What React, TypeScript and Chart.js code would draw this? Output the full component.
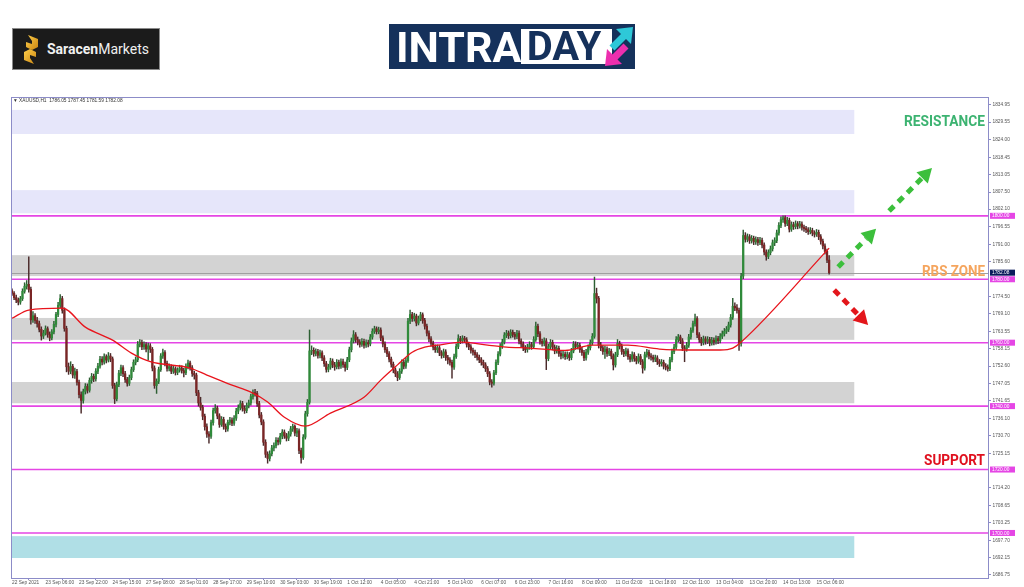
import React, { useEffect, useRef } from 'react';
import { Chart, registerables } from 'chart.js';

Chart.register(...registerables);

// ---------- DATA (XAUUSD H1) ----------
const firstOpen = 1776.4;

const closes = [
  1775.6, 1774.2, 1773.5, 1772.8, 1773.9, 1776.2, 1777.8, 1778.4, 1776.8, 1767.2,
  1768.5, 1767.0, 1766.0, 1764.2, 1762.1, 1763.0, 1764.4, 1762.6, 1761.5, 1763.4,
  1765.8, 1768.9, 1771.8, 1773.9, 1770.2, 1764.5, 1752.4, 1751.0, 1752.5, 1749.8,
  1750.9, 1747.5, 1743.6, 1741.8, 1744.6, 1746.2, 1745.0, 1748.1, 1749.4, 1748.6,
  1751.0, 1752.6, 1754.8, 1753.9, 1755.6, 1754.5, 1755.8, 1754.9, 1746.5, 1742.3,
  1746.8, 1750.4, 1752.1, 1750.2, 1748.4, 1747.2, 1749.0, 1751.5, 1753.8, 1754.6,
  1759.5, 1760.1, 1758.7, 1759.4, 1758.0, 1759.0, 1757.9, 1752.0, 1746.5, 1747.8,
  1751.5, 1755.8, 1756.9, 1753.5, 1751.9, 1752.4, 1751.0, 1751.8, 1750.6, 1751.4,
  1752.0, 1751.2, 1750.5, 1752.4, 1753.6, 1752.1, 1750.3, 1749.8, 1744.2, 1741.0,
  1739.6, 1736.8, 1733.5, 1731.2, 1730.5, 1734.8, 1738.6, 1739.4, 1736.9, 1734.2,
  1735.8, 1733.6, 1732.8, 1734.9, 1735.6, 1734.6, 1736.2, 1738.4, 1739.5, 1740.8,
  1739.3, 1738.6, 1740.2, 1741.0, 1743.0, 1744.3, 1744.0, 1740.8, 1737.2, 1735.0,
  1728.6, 1724.8, 1723.5, 1725.0, 1726.8, 1727.5, 1729.2, 1728.7, 1730.5, 1731.8,
  1730.6, 1729.9, 1731.2, 1732.8, 1733.6, 1731.5, 1732.2, 1726.0, 1723.8, 1730.2,
  1737.6, 1741.2, 1757.4, 1757.6, 1756.6, 1757.2, 1756.0, 1756.8, 1755.2, 1753.4,
  1751.6, 1752.3, 1754.2, 1753.0, 1752.4, 1753.8, 1752.6, 1754.0, 1753.1, 1752.2,
  1754.6, 1757.8, 1760.6, 1762.5, 1761.0, 1760.2, 1759.5, 1760.4, 1759.2, 1760.0,
  1759.6, 1761.8, 1763.6, 1764.4, 1763.5, 1764.0, 1761.5, 1759.6, 1757.8, 1756.5,
  1754.8, 1753.2, 1751.4, 1750.2, 1749.0, 1751.0, 1753.8, 1752.6, 1754.3, 1766.8,
  1768.9, 1767.6, 1768.4, 1766.2, 1767.5, 1768.8, 1767.0, 1765.2, 1763.0, 1761.2,
  1759.8, 1758.6, 1757.8, 1758.4, 1756.8, 1756.0, 1757.1, 1755.3, 1754.6, 1753.8,
  1752.3, 1755.6, 1758.8, 1761.3, 1760.6, 1761.4, 1760.9, 1759.5, 1758.7, 1757.6,
  1757.0, 1756.2, 1755.4, 1754.6, 1753.8, 1753.0, 1751.8, 1750.2, 1747.6, 1747.2,
  1750.5, 1753.8, 1756.4, 1758.9, 1760.2, 1762.4, 1763.0, 1762.2, 1763.3, 1762.6,
  1762.0, 1763.0, 1760.5, 1759.6, 1758.4, 1757.8, 1758.6, 1759.4, 1758.8, 1761.0,
  1765.2, 1762.8, 1760.4, 1759.8, 1760.6, 1755.0, 1758.8, 1760.1, 1758.6, 1757.4,
  1758.2, 1756.6, 1755.8, 1756.4, 1755.6, 1756.2, 1755.3, 1757.4, 1759.6, 1758.8,
  1759.2, 1757.8, 1756.9, 1755.2, 1757.0, 1758.4, 1760.0, 1762.0, 1775.5, 1774.0,
  1759.2, 1758.4, 1757.2, 1758.0, 1756.6, 1757.3, 1755.8, 1753.0, 1756.2, 1759.8,
  1758.9, 1757.2, 1756.5, 1757.4, 1755.6, 1754.8, 1756.2, 1755.0, 1754.2, 1755.6,
  1754.0, 1752.0, 1756.2, 1757.0, 1755.8, 1755.4, 1754.8, 1755.2, 1754.0, 1753.4,
  1753.8, 1752.6, 1752.3, 1751.8, 1754.6, 1757.2, 1758.6, 1761.0, 1761.8, 1760.6,
  1758.4, 1758.0, 1759.2, 1761.8, 1763.9, 1766.0, 1767.6, 1762.5, 1761.0, 1760.0,
  1761.2, 1760.4, 1761.0, 1759.9, 1760.8, 1760.2, 1761.3, 1760.6, 1762.0, 1762.8,
  1763.6, 1764.2, 1765.6, 1768.0, 1771.5, 1771.0, 1770.2, 1759.8, 1781.0, 1793.8,
  1792.6, 1793.4, 1792.2, 1792.9, 1791.8, 1792.5, 1791.6, 1792.3, 1790.8, 1788.6,
  1787.2, 1788.4, 1789.6, 1791.5, 1792.2, 1794.6, 1797.0, 1798.8, 1799.4, 1797.6,
  1798.6, 1795.8, 1797.2, 1796.6, 1797.5, 1796.8, 1797.4, 1796.4, 1796.0, 1795.6,
  1795.0, 1795.4, 1794.6, 1794.2, 1794.8, 1793.4, 1792.0, 1790.5, 1788.8, 1786.05,
  1782.08,
];

const highs = [
  1777.0, 1776.1, 1775.0, 1774.1, 1774.6, 1777.0, 1778.9, 1779.6, 1787.1, 1777.5,
  1769.8, 1769.2, 1768.0, 1766.8, 1765.0, 1763.9, 1765.3, 1765.0, 1763.4, 1764.1,
  1766.7, 1769.6, 1772.7, 1775.2, 1774.6, 1771.0, 1765.2, 1753.6, 1754.0, 1753.2,
  1752.0, 1751.6, 1748.2, 1744.5, 1745.4, 1747.1, 1747.0, 1748.9, 1750.3, 1750.1,
  1751.8, 1753.5, 1755.7, 1755.6, 1756.5, 1756.2, 1756.9, 1756.6, 1755.5, 1747.2,
  1747.6, 1751.3, 1752.9, 1752.8, 1751.0, 1749.1, 1749.8, 1752.3, 1754.6, 1755.5,
  1760.4, 1761.0, 1760.8, 1760.3, 1760.0, 1759.9, 1759.7, 1758.5, 1752.7, 1748.6,
  1752.3, 1756.6, 1758.0, 1757.5, 1754.2, 1753.3, 1753.0, 1752.6, 1752.4, 1752.1,
  1752.9, 1752.7, 1751.9, 1753.3, 1754.5, 1754.2, 1752.8, 1751.0, 1750.4, 1745.0,
  1742.8, 1740.3, 1737.5, 1734.4, 1732.0, 1735.6, 1739.4, 1740.5, 1740.0, 1737.6,
  1736.7, 1736.5, 1734.4, 1735.6, 1736.5, 1736.3, 1737.0, 1739.3, 1740.4, 1741.7,
  1741.5, 1740.1, 1741.0, 1741.9, 1743.8, 1745.1, 1745.3, 1744.7, 1741.5, 1738.0,
  1735.7, 1729.4, 1725.6, 1725.9, 1727.6, 1728.4, 1730.1, 1730.0, 1731.4, 1732.6,
  1732.5, 1731.4, 1732.0, 1733.6, 1734.3, 1734.1, 1733.0, 1732.8, 1726.8, 1731.0,
  1738.4, 1742.1, 1764.0, 1759.0, 1758.4, 1758.1, 1757.9, 1757.7, 1757.4, 1755.9,
  1754.1, 1753.2, 1755.1, 1754.9, 1753.8, 1754.7, 1754.5, 1754.9, 1754.8, 1753.9,
  1755.4, 1758.6, 1761.5, 1763.8, 1763.2, 1761.8, 1761.0, 1761.3, 1761.1, 1760.9,
  1760.8, 1762.6, 1764.4, 1765.2, 1765.0, 1764.9, 1764.7, 1762.2, 1760.3, 1758.5,
  1757.2, 1755.5, 1753.9, 1752.1, 1750.9, 1751.8, 1754.6, 1754.5, 1755.2, 1767.7,
  1770.3, 1769.6, 1769.3, 1769.0, 1768.4, 1769.6, 1769.4, 1767.7, 1765.9, 1763.7,
  1761.9, 1760.5, 1759.3, 1759.3, 1759.1, 1757.5, 1758.0, 1757.8, 1756.0, 1755.3,
  1754.5, 1756.4, 1759.6, 1762.5, 1762.0, 1762.2, 1762.0, 1761.6, 1760.2, 1759.4,
  1758.3, 1757.7, 1756.9, 1756.1, 1755.3, 1754.5, 1753.7, 1752.5, 1750.9, 1748.4,
  1751.3, 1754.6, 1757.2, 1759.7, 1761.1, 1763.2, 1763.9, 1763.7, 1764.1, 1764.0,
  1763.3, 1763.9, 1763.7, 1761.2, 1760.3, 1759.1, 1759.5, 1760.3, 1760.1, 1761.9,
  1766.5, 1765.9, 1763.5, 1761.1, 1761.5, 1761.3, 1759.6, 1761.0, 1760.8, 1759.3,
  1759.1, 1758.9, 1757.3, 1757.3, 1757.1, 1757.1, 1756.9, 1758.2, 1760.4, 1760.3,
  1760.1, 1759.9, 1758.5, 1757.6, 1757.9, 1759.3, 1760.9, 1762.9, 1780.7, 1777.2,
  1774.6, 1760.1, 1759.1, 1758.9, 1758.7, 1758.2, 1758.0, 1756.5, 1757.0, 1761.0,
  1760.5, 1759.6, 1757.9, 1758.3, 1758.1, 1756.3, 1757.1, 1756.9, 1755.7, 1756.5,
  1756.3, 1754.7, 1757.0, 1757.9, 1757.7, 1756.6, 1756.1, 1756.1, 1755.9, 1754.7,
  1754.7, 1754.5, 1753.4, 1753.0, 1755.4, 1758.0, 1759.5, 1761.9, 1762.6, 1762.4,
  1761.3, 1759.1, 1760.1, 1762.6, 1764.7, 1766.8, 1769.0, 1768.2, 1763.2, 1761.7,
  1762.1, 1761.9, 1761.9, 1761.7, 1761.7, 1761.5, 1762.2, 1762.0, 1762.9, 1763.7,
  1764.5, 1765.1, 1766.5, 1768.9, 1774.0, 1772.6, 1772.0, 1770.9, 1781.9, 1795.5,
  1794.7, 1794.3, 1794.1, 1793.8, 1793.6, 1793.4, 1793.2, 1793.2, 1793.0, 1791.5,
  1789.3, 1789.3, 1790.5, 1792.4, 1793.1, 1795.5, 1797.9, 1799.7, 1800.0, 1800.0,
  1799.5, 1799.3, 1798.1, 1798.0, 1798.4, 1798.2, 1798.3, 1798.1, 1797.1, 1796.7,
  1796.3, 1796.3, 1796.1, 1795.3, 1795.7, 1795.5, 1794.1, 1792.7, 1791.2, 1789.5,
  1787.45,
];

const lows = [
  1774.9, 1773.6, 1772.6, 1771.9, 1772.1, 1773.3, 1775.6, 1776.9, 1775.9, 1765.8,
  1766.4, 1766.1, 1764.9, 1763.4, 1760.8, 1761.3, 1762.4, 1761.7, 1760.6, 1760.9,
  1762.8, 1765.0, 1768.2, 1771.0, 1769.3, 1763.6, 1750.8, 1750.0, 1750.2, 1748.9,
  1748.7, 1746.6, 1742.6, 1737.8, 1740.9, 1743.8, 1744.1, 1744.4, 1747.2, 1747.7,
  1747.9, 1750.2, 1752.0, 1753.0, 1753.2, 1753.6, 1753.9, 1754.0, 1745.6, 1740.8,
  1741.6, 1746.1, 1749.6, 1749.3, 1747.5, 1746.3, 1746.5, 1748.3, 1750.9, 1753.0,
  1754.0, 1758.7, 1757.8, 1757.9, 1757.1, 1754.5, 1756.9, 1751.1, 1745.6, 1744.0,
  1747.1, 1750.9, 1755.0, 1752.7, 1751.0, 1751.1, 1750.2, 1750.3, 1749.8, 1749.9,
  1750.7, 1750.4, 1749.2, 1749.9, 1751.7, 1751.3, 1749.4, 1748.5, 1743.3, 1740.0,
  1738.7, 1735.7, 1732.4, 1730.1, 1728.3, 1729.8, 1734.0, 1737.8, 1736.0, 1733.3,
  1733.6, 1732.7, 1731.9, 1732.1, 1734.1, 1733.8, 1733.9, 1735.5, 1737.6, 1738.8,
  1738.4, 1737.7, 1737.9, 1739.4, 1740.3, 1742.2, 1743.1, 1739.9, 1736.3, 1734.1,
  1727.6, 1723.8, 1722.0, 1722.7, 1724.3, 1725.9, 1726.8, 1727.8, 1728.0, 1729.7,
  1729.8, 1729.0, 1729.1, 1730.5, 1732.0, 1730.6, 1730.4, 1725.0, 1722.0, 1723.2,
  1729.6, 1736.8, 1740.6, 1756.2, 1755.7, 1755.8, 1755.1, 1755.2, 1754.3, 1752.5,
  1750.7, 1750.8, 1751.6, 1752.1, 1751.3, 1751.7, 1751.7, 1751.9, 1752.2, 1751.0,
  1751.5, 1754.0, 1757.1, 1759.9, 1760.1, 1759.3, 1758.6, 1758.8, 1758.3, 1758.5,
  1758.7, 1759.0, 1761.1, 1762.9, 1762.7, 1762.8, 1760.6, 1758.7, 1756.9, 1755.6,
  1753.9, 1752.3, 1750.5, 1749.3, 1748.0, 1748.4, 1750.3, 1751.7, 1751.9, 1753.8,
  1766.0, 1766.7, 1766.8, 1765.3, 1765.6, 1766.9, 1766.1, 1764.3, 1762.1, 1760.3,
  1758.9, 1757.7, 1756.9, 1756.9, 1755.9, 1755.1, 1755.3, 1754.4, 1753.3, 1752.9,
  1748.8, 1751.6, 1755.0, 1758.1, 1759.7, 1759.9, 1760.0, 1758.6, 1757.8, 1756.7,
  1756.1, 1755.3, 1754.5, 1753.7, 1752.9, 1752.1, 1750.9, 1749.3, 1746.7, 1746.0,
  1746.6, 1749.9, 1753.1, 1755.8, 1758.2, 1759.6, 1761.6, 1761.3, 1761.5, 1761.7,
  1761.1, 1761.3, 1759.6, 1758.7, 1757.5, 1756.9, 1757.0, 1757.9, 1757.9, 1758.1,
  1760.4, 1761.9, 1759.5, 1758.9, 1759.0, 1751.5, 1754.3, 1758.1, 1757.7, 1756.5,
  1756.7, 1755.7, 1754.9, 1755.1, 1754.7, 1754.9, 1754.4, 1754.6, 1756.8, 1757.9,
  1758.0, 1756.9, 1756.0, 1754.3, 1754.5, 1756.3, 1757.7, 1759.3, 1761.4, 1772.5,
  1758.3, 1757.5, 1756.3, 1755.0, 1755.7, 1755.9, 1754.9, 1751.4, 1752.3, 1755.6,
  1758.0, 1756.3, 1755.6, 1755.8, 1754.7, 1753.9, 1754.1, 1754.1, 1753.3, 1753.5,
  1753.1, 1750.4, 1751.3, 1755.4, 1754.9, 1754.5, 1753.9, 1754.0, 1753.1, 1752.5,
  1752.6, 1751.7, 1751.4, 1751.0, 1751.2, 1753.9, 1756.5, 1757.9, 1760.2, 1759.7,
  1757.5, 1754.0, 1757.3, 1758.5, 1761.1, 1763.2, 1765.2, 1761.6, 1760.1, 1759.1,
  1759.3, 1759.5, 1759.7, 1759.0, 1759.2, 1759.3, 1759.5, 1759.7, 1759.9, 1761.3,
  1762.1, 1762.9, 1763.5, 1764.9, 1767.3, 1770.1, 1769.3, 1757.6, 1758.9, 1780.2,
  1791.7, 1791.8, 1791.3, 1791.4, 1790.9, 1791.0, 1790.7, 1790.9, 1789.9, 1787.7,
  1786.0, 1786.5, 1787.7, 1788.9, 1790.6, 1791.5, 1793.9, 1796.3, 1797.9, 1796.7,
  1796.9, 1794.9, 1795.1, 1795.7, 1795.9, 1795.9, 1796.1, 1795.5, 1795.1, 1794.7,
  1794.1, 1794.3, 1793.7, 1793.3, 1793.5, 1792.5, 1791.1, 1789.6, 1787.9, 1785.2,
  1781.59,
];

// moving-average line, read at a few bars
const maBars = [0, 8, 24, 35, 48, 57, 66, 85, 93, 105, 114, 122, 130, 140, 152, 168, 176, 184, 191, 197, 203, 215, 227, 236, 247, 264, 277, 294, 309, 325, 338, 344, 348, 390];
const maValues = [1767.7, 1770.3, 1770.9, 1764.9, 1760.8, 1756.7, 1754.0, 1752.0, 1749.8, 1746.6, 1744.4, 1741.3, 1736.5, 1733.7, 1737.8, 1742.8, 1748.2, 1753.0, 1757.0, 1758.6, 1759.2, 1760.2, 1759.2, 1758.6, 1758.3, 1757.6, 1759.2, 1759.2, 1758.0, 1757.7, 1757.7, 1758.3, 1760.2, 1789.8];

// time axis
const timeLabels = ['22 Sep 2021', '23 Sep 06:00', '23 Sep 22:00', '24 Sep 15:00', '27 Sep 08:00', '28 Sep 01:00', '28 Sep 17:00', '29 Sep 10:00', '30 Sep 03:00', '30 Sep 19:00', '1 Oct 12:00', '4 Oct 05:00', '4 Oct 21:00', '5 Oct 14:00', '6 Oct 07:00', '6 Oct 23:00', '7 Oct 16:00', '8 Oct 09:00', '11 Oct 02:00', '11 Oct 18:00', '12 Oct 11:00', '13 Oct 04:00', '13 Oct 20:00', '14 Oct 13:00', '15 Oct 06:00'];
const timeLabelBars = [0, 16, 32, 48, 64, 80, 96, 112, 128, 144, 160, 176, 192, 208, 224, 240, 256, 272, 288, 304, 320, 336, 352, 368, 384];

// price axis
const priceTicks = [1834.95, 1829.55, 1824.0, 1818.45, 1813.05, 1807.5, 1802.1, 1796.55, 1791.0, 1785.6, 1774.5, 1769.1, 1763.55, 1758.15, 1752.6, 1747.05, 1741.65, 1736.1, 1730.7, 1725.15, 1714.2, 1708.65, 1703.25, 1697.7, 1692.15, 1686.75];

// annotations
const levelLines = [1800, 1780, 1760, 1740, 1720, 1700];
const zoneLows = [1825.8, 1800.8, 1781.0, 1760.9, 1740.9, 1692.1];
const zoneHighs = [1833.4, 1808.1, 1787.6, 1767.8, 1747.6, 1699.0];
const zoneKinds = ['upper', 'upper', 'rbs', 'rbs', 'rbs', 'lower'];
const zoneEndBar = 402;
const lastPrice = 1782.08;
const titleText = '\u25BC XAUUSD,H1  1786.05 1787.45 1781.59 1782.08';

const arrowStartBars = [394.3, 418.6, 392.4];
const arrowStartPrices = [1783.9, 1801.5, 1776.6];
const arrowEndBars = [412.4, 439.1, 408.6];
const arrowEndPrices = [1795.9, 1815.1, 1765.6];
const arrowKinds = ['up', 'up', 'down'];

const zoneTexts = ['RESISTANCE', 'RBS ZONE', 'SUPPORT'];
const zoneTextPrices = [1829.9, 1782.6, 1723.0];

// ---------- STYLE ----------
const ZONE_COLORS: Record<string, string> = { upper: '#e6e6fa', rbs: '#d3d3d3', lower: '#b0dfe6' };
const ARROW_COLORS: Record<string, string> = { up: '#3cbf3c', down: '#e3161b' };
const TEXT_COLORS = ['#3cb371', '#f5a55e', '#e0101e'];
const TEXT_WIDTHS = [81, 63, 61];
const FRAME = '#8c8cc8';
const MAGENTA = '#e546e5';
const AXIS_FONT = '"Liberation Sans", Arial, sans-serif';

function drawArrow(ctx: CanvasRenderingContext2D, x0: number, y0: number, x1: number, y1: number, color: string) {
  const ang = Math.atan2(y1 - y0, x1 - x0);
  const headLen = 14;
  const headW = 8;
  const bx = x1 - headLen * Math.cos(ang);
  const by = y1 - headLen * Math.sin(ang);
  ctx.save();
  ctx.strokeStyle = color;
  ctx.lineWidth = 5;
  ctx.setLineDash([7, 6]);
  ctx.beginPath();
  ctx.moveTo(x0, y0);
  ctx.lineTo(bx, by);
  ctx.stroke();
  ctx.setLineDash([]);
  ctx.fillStyle = color;
  ctx.beginPath();
  ctx.moveTo(x1, y1);
  ctx.lineTo(bx + headW * Math.sin(ang), by - headW * Math.cos(ang));
  ctx.lineTo(bx - headW * Math.sin(ang), by + headW * Math.cos(ang));
  ctx.closePath();
  ctx.fill();
  ctx.restore();
}

const annotationPlugin = {
  id: 'annotations',
  beforeDatasetsDraw(chart: any) {
    const { ctx, chartArea: a, scales } = chart;
    const x = scales.x;
    const y = scales.y;
    ctx.save();
    ctx.beginPath();
    ctx.rect(a.left, a.top, a.right - a.left, a.bottom - a.top);
    ctx.clip();
    const xEnd = x.getPixelForValue(zoneEndBar);
    zoneLows.forEach((lo, i) => {
      const yTop = y.getPixelForValue(zoneHighs[i]);
      const yBot = y.getPixelForValue(lo);
      ctx.fillStyle = ZONE_COLORS[zoneKinds[i]];
      ctx.fillRect(a.left, yTop, xEnd - a.left, yBot - yTop);
    });
    // last price line
    const py = Math.round(y.getPixelForValue(lastPrice)) + 0.5;
    ctx.strokeStyle = '#a0a0a0';
    ctx.lineWidth = 1;
    ctx.beginPath();
    ctx.moveTo(a.left, py);
    ctx.lineTo(a.right, py);
    ctx.stroke();
    // level lines
    ctx.strokeStyle = MAGENTA;
    ctx.lineWidth = 1.6;
    levelLines.forEach((v) => {
      const ly = y.getPixelForValue(v);
      ctx.beginPath();
      ctx.moveTo(a.left, ly);
      ctx.lineTo(a.right, ly);
      ctx.stroke();
    });
    ctx.restore();
  },
  afterDatasetsDraw(chart: any) {
    const { ctx, chartArea: a, scales } = chart;
    const x = scales.x;
    const y = scales.y;
    arrowKinds.forEach((k, i) => {
      drawArrow(
        ctx,
        x.getPixelForValue(arrowStartBars[i]),
        y.getPixelForValue(arrowStartPrices[i]),
        x.getPixelForValue(arrowEndBars[i]),
        y.getPixelForValue(arrowEndPrices[i]),
        ARROW_COLORS[k]
      );
    });
    zoneTexts.forEach((t, i) => {
      const size = 15;
      ctx.save();
      ctx.font = `bold ${size}px Roboto, "Liberation Sans", sans-serif`;
      const w = ctx.measureText(t).width;
      const sx = TEXT_WIDTHS[i] / w;
      const cy = y.getPixelForValue(zoneTextPrices[i]);
      ctx.translate(a.right - 4, cy + size * 0.711 / 2);
      ctx.scale(sx, 1);
      ctx.fillStyle = TEXT_COLORS[i];
      ctx.textAlign = 'right';
      ctx.textBaseline = 'alphabetic';
      ctx.fillText(t, 0, 0);
      ctx.restore();
    });
  },
  afterDraw(chart: any) {
    const { ctx, chartArea: a, scales } = chart;
    const y = scales.y;
    ctx.save();
    ctx.strokeStyle = FRAME;
    ctx.lineWidth = 1;
    ctx.strokeRect(a.left + 0.5, a.top + 0.5, a.right - a.left - 1, a.bottom - a.top);
    // title
    ctx.fillStyle = '#333';
    ctx.font = `4.8px ${AXIS_FONT}`;
    ctx.textBaseline = 'middle';
    ctx.textAlign = 'left';
    ctx.fillText(titleText, a.left + 2, a.top + 4);
    // level labels on axis
    levelLines.forEach((v) => {
      const ly = y.getPixelForValue(v);
      ctx.fillStyle = MAGENTA;
      ctx.fillRect(a.right + 1, ly - 3, 25, 6);
      ctx.fillStyle = '#fff';
      ctx.fillText(v.toFixed(2), a.right + 3, ly + 0.3);
    });
    const py = y.getPixelForValue(lastPrice);
    ctx.fillStyle = '#0a1a5c';
    ctx.fillRect(a.right + 1, py - 3, 25, 6);
    ctx.fillStyle = '#fff';
    ctx.fillText(lastPrice.toFixed(2), a.right + 3, py + 0.3);
    ctx.restore();
  },
};

const BULL = '#2f8a3a';
const BEAR = '#7a2525';

function App() {
  const canvasRef = useRef<HTMLCanvasElement | null>(null);

  useEffect(() => {
    const canvas = canvasRef.current;
    if (!canvas) return;
    const opens = closes.map((c, i) => (i === 0 ? firstOpen : closes[i - 1]));
    const bodyData = closes.map((c, i) => ({ x: i, y: [opens[i], c] }));
    const wickData = closes.map((c, i) => ({ x: i, y: [lows[i], highs[i]] }));
    const bodyColors = closes.map((c, i) => (c >= opens[i] ? BULL : BEAR));
    const maData = maBars.map((b, i) => ({ x: b, y: maValues[i] }));

    const chart = new Chart(canvas, {
      type: 'bar',
      data: {
        datasets: [
          {
            type: 'line',
            data: maData,
            borderColor: '#e8141c',
            borderWidth: 1.3,
            pointRadius: 0,
            cubicInterpolationMode: 'monotone',
            order: 0,
          } as any,
          {
            type: 'bar',
            data: bodyData,
            backgroundColor: bodyColors,
            barThickness: 1.6,
            grouped: false,
            order: 1,
          } as any,
          {
            type: 'bar',
            data: wickData,
            backgroundColor: bodyColors.map((c) => (c === BULL ? '#2d5f33' : '#4a2a2a')),
            barThickness: 0.8,
            grouped: false,
            order: 2,
          } as any,
        ],
      },
      options: {
        responsive: false,
        animation: false,
        devicePixelRatio: 1,
        events: [],
        layout: { padding: { left: 11, top: 97, right: 0, bottom: 0 } },
        plugins: { legend: { display: false }, tooltip: { enabled: false } },
        scales: {
          x: {
            type: 'linear',
            min: -0.48,
            max: 466.3,
            offset: false,
            grid: { display: true, drawOnChartArea: false, drawTicks: true, tickLength: 2, color: FRAME },
            border: { display: false },
            ticks: {
              autoSkip: false,
              maxRotation: 0,
              minRotation: 0,
              align: 'start',
              padding: 0,
              color: '#555',
              font: { size: 4.8, family: AXIS_FONT },
              callback: (_v: any, idx: number) => timeLabels[idx],
            },
            afterBuildTicks: (s: any) => {
              s.ticks = timeLabelBars.map((v) => ({ value: v }));
            },
            afterFit: (s: any) => {
              s.height = 9;
            },
          } as any,
          y: {
            type: 'linear',
            position: 'right',
            min: 1685.8,
            max: 1837.47,
            grid: { display: true, drawOnChartArea: false, drawTicks: true, tickLength: 2, color: FRAME },
            border: { display: false },
            ticks: {
              autoSkip: false,
              padding: 1.5,
              color: '#555',
              font: { size: 4.8, family: AXIS_FONT },
              callback: (v: any) => Number(v).toFixed(2),
            },
            afterBuildTicks: (s: any) => {
              s.ticks = priceTicks.map((v) => ({ value: v }));
            },
            afterFit: (s: any) => {
              s.width = 35;
            },
          } as any,
        },
      },
      plugins: [annotationPlugin],
    } as any);

    return () => chart.destroy();
  }, []);

  return (
    <div style={{ position: 'absolute', left: 0, top: 0, width: 1024, height: 587, background: '#fff', overflow: 'hidden' }}>
      <canvas ref={canvasRef} width={1024} height={587} style={{ position: 'absolute', left: 0, top: 0 }} />
      {/* Saracen Markets logo */}
      <div
        style={{
          position: 'absolute',
          left: 12,
          top: 28,
          width: 148,
          height: 42,
          background: '#1b1b1b',
          border: '1px solid #8a8a8a',
          boxSizing: 'border-box',
        }}
      >
        <svg style={{ position: 'absolute', left: 9, top: 5 }} width={18} height={31} viewBox="0 0 18 31">
          <defs>
            <linearGradient id="gold" x1="0" y1="0" x2="1" y2="1">
              <stop offset="0" stopColor="#ffcf4a" />
              <stop offset="1" stopColor="#c98512" />
            </linearGradient>
          </defs>
          <polygon points="6,1 16,5 16,13 10,16 4,13 4,8 10,10 10,7" fill="url(#gold)" />
          <polygon points="12,30 2,26 2,18 8,15 14,18 14,23 8,21 8,24" fill="url(#gold)" />
        </svg>
        <div
          style={{
            position: 'absolute',
            left: 34,
            top: 0,
            height: 40,
            lineHeight: '40px',
            fontFamily: 'Roboto, sans-serif',
            fontSize: 14,
            color: '#f0f0f0',
            whiteSpace: 'nowrap',
          }}
        >
          <span style={{ fontWeight: 700 }}>Saracen</span>
          <span>Markets</span>
        </div>
      </div>
      {/* INTRADAY logo */}
      <div style={{ position: 'absolute', left: 389, top: 24, width: 246, height: 45, background: '#15315b' }}>
        <div
          style={{
            position: 'absolute',
            left: 7,
            top: 1,
            height: 45,
            lineHeight: '45px',
            fontFamily: 'Roboto, sans-serif',
            fontWeight: 700,
            fontSize: 43,
            color: '#fff',
            letterSpacing: 0,
          }}
        >
          INTRA
        </div>
        <div style={{ position: 'absolute', left: 132, top: 5, width: 91, height: 35, background: '#fff' }}>
          <div
            style={{
              position: 'absolute',
              left: 0,
              top: 0,
              width: 86,
              height: 35,
              lineHeight: '36px',
              textAlign: 'center',
              fontFamily: 'Roboto, sans-serif',
              fontWeight: 700,
              fontSize: 40,
              color: '#15315b',
            }}
          >
            DAY
          </div>
        </div>
        <svg style={{ position: 'absolute', left: 215, top: 2 }} width={30} height={41} viewBox="0 0 30 41">
          <line x1="8" y1="22" x2="21" y2="9" stroke="#2ec8d8" strokeWidth="7" />
          <polygon points="29,1 12,3 27,18" fill="#2ec8d8" />
          <line x1="22" y1="20" x2="9" y2="33" stroke="#ec2fae" strokeWidth="7" />
          <polygon points="1,40 3,23 18,38" fill="#ec2fae" />
        </svg>
      </div>
    </div>
  );
}

export default App;
